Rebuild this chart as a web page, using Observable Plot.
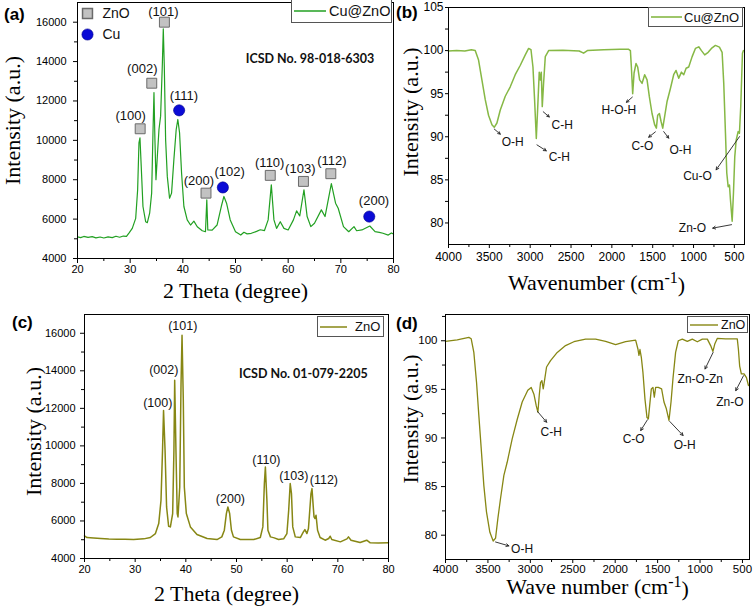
<!DOCTYPE html>
<html><head><meta charset="utf-8">
<script src="https://cdn.jsdelivr.net/npm/d3@7"></script>
<script src="https://cdn.jsdelivr.net/npm/@observablehq/plot@0.6"></script>
<style>
body{margin:0;background:#fff}
#wrap{position:relative;width:756px;height:610px;overflow:hidden;font-family:"Liberation Sans",Arial,sans-serif}
.panel{position:absolute}
.lg{position:absolute;border:1px solid #555;background:#fff;display:flex;align-items:center;box-sizing:border-box;color:#111}
.plab{position:absolute;font-family:"Liberation Sans",Arial,sans-serif;font-weight:bold;font-size:17px;color:#000}
</style></head><body><div id="wrap"></div>
<script>
// ---------- DATA ----------
const colA = "#22a022", colB = "#86b845", colCD = "#878714";
// (a) XRD Cu@ZnO: [2theta, intensity]
const xrdA = [[20,5100],[20.6,5060],[21.2,5120],[22,5070],[22.8,5110],[23.5,5050],[24.3,5090],[25,5040],[25.8,5100],[26.6,5060],[27.3,5130],[28,5080],[28.7,5140],[29.3,5120],[29.8,5300],[30.4,5530],[31.05,6040],[31.42,7490],[31.67,9870],[31.86,10130],[32.1,8680],[32.43,6640],[32.94,5870],[33.26,5820],[33.7,6300],[34.08,7320],[34.33,10380],[34.52,12430],[34.7,10040],[34.9,8000],[35.16,9190],[35.47,10550],[35.78,11230],[36.1,13780],[36.29,15660],[36.48,13780],[36.73,10040],[37.05,8170],[37.48,7060],[37.86,7320],[38.3,9020],[38.74,10550],[39.05,11060],[39.38,10380],[39.76,8340],[40.2,6640],[40.83,5960],[41.46,5700],[42.1,5900],[42.74,5610],[43.69,5410],[44.3,5360],[44.55,6980],[44.74,5450],[45.57,5445],[46.5,5700],[47.3,6640],[47.8,7150],[48.3,6810],[49,5960],[50,5360],[51,5190],[51.6,5330],[52.2,5250],[53,5280],[54,5380],[54.7,5460],[55.5,5420],[56.2,5960],[56.8,7740],[57.3,5960],[57.8,5530],[58.5,5870],[59.2,5530],[60,5450],[61,5960],[61.6,6420],[62.2,6160],[63,7490],[63.6,6130],[64.3,5620],[65,5790],[66.3,6470],[67,6130],[68.2,7800],[69,6810],[69.5,6550],[70.5,5620],[71.5,5360],[72.5,5620],[73,5410],[74,5450],[75.5,5650],[76.5,5360],[77.3,5330],[78,5280],[79,5190],[79.6,5300],[80,5240]];
const znoPeaksA = [[31.9,10587],[34.1,12901],[36.5,16000],[44.4,7319],[56.6,8221],[62.9,7915],[68.1,8306]];
const cuPeaksA = [[39.3,11523],[47.6,7608],[75.4,6128]];
const labelsA = [[30.1,11234,"(100)"],[32.3,13617,"(002)"],[36.3,16510,"(101)"],[40.2,12255,"(111)"],[43.05,7949,"(200)"],[48.9,8425,"(102)"],[56.5,8851,"(110)"],[62.3,8544,"(103)"],[68.3,8936,"(112)"],[76.3,6927,"(200)"]];
const icsdA = [[64.15,14127,"ICSD No. 98-018-6303"]];

// (b) FTIR Cu@ZnO: [wavenumber, transmittance]
const ftirB = [[4000,99.94],[3900,100.0],[3800,99.95],[3720,100.1],[3673,100.0],[3632,98.9],[3591,96.6],[3550,94.3],[3510,92.5],[3468,91.4],[3440,91.1],[3407,91.6],[3366,93.1],[3305,94.7],[3244,95.8],[3183,97.2],[3121,98.3],[3060,99.5],[3019,100.25],[2990,100.1],[2966,98.1],[2946,94.3],[2925,89.8],[2909,93.1],[2889,97.5],[2876,96.6],[2864,97.5],[2852,93.5],[2836,96.2],[2815,99.3],[2774,100],[2600,100.05],[2400,99.95],[2346,99.7],[2300,100.0],[2100,100.1],[1900,100.15],[1794,100.15],[1773,100],[1761,98.1],[1745,95.0],[1728,97.4],[1704,98.5],[1684,98.1],[1660,96.6],[1630,96.2],[1598,97.2],[1569,96.6],[1541,94.65],[1508,92.7],[1476,91.4],[1455,91.0],[1439,92.5],[1418,92.7],[1398,91.8],[1377,91.0],[1357,92.15],[1324,94.1],[1283,95.6],[1243,97.2],[1214,97.7],[1181,96.8],[1148,97.5],[1120,97.2],[1091,97.95],[1059,98.1],[1017,99.3],[977,100.25],[936,100.44],[903,100],[863,99.5],[821,99.8],[781,100.25],[732,100.6],[683,100.4],[650,99.8],[630,96.2],[609,90.4],[593,85.8],[576,84.2],[560,84.4],[548,82.7],[527,80.2],[511,83.5],[495,87.7],[478,89.6],[454,90.6],[438,90.4],[422,93.5],[401,99.7],[389,100]];
const annB = [
 {x1:3440,y1:90.9,x2:3366,y2:90.3,tx:3213,ty:89.4,t:"O-H"},
 {x1:2917,y1:89.06,x2:2803,y2:88.37,tx:2643,ty:87.67,t:"C-H"},
 {x1:2840,y1:92.9,x2:2766,y2:92.3,tx:2607,ty:91.4,t:"C-H"},
 {x1:1749,y1:94.6,x2:1822,y2:94.0,tx:1915,ty:93.1,t:"H-O-H"},
 {x1:1467,y1:90.57,x2:1549,y2:89.95,tx:1626,ty:88.87,t:"C-O"},
 {x1:1365,y1:90.6,x2:1304,y2:89.84,tx:1160,ty:88.4,t:"O-H"},
 {x1:437,y1:90.02,x2:723,y2:86.17,tx:952,ty:85.47,t:"Cu-O"},
 {x1:535,y1:79.8,x2:765,y2:79.4,tx:1013,ty:79.45,t:"Zn-O"}];

// (c) XRD ZnO
const xrdC = [[20,5206],[20.5,5117],[21.8,5090],[23.2,5064],[24.8,5040],[26.4,5028],[28,5020],[29.7,5010],[31.7,5046],[33,5117],[34,5330],[34.65,5862],[35.1,7102],[35.4,9760],[35.6,11890],[35.9,9760],[36.2,6748],[36.6,5720],[36.95,5684],[37.4,6394],[37.65,9760],[37.8,13500],[38.05,9760],[38.3,6394],[38.45,6216],[38.8,7812],[39.05,13300],[39.25,15900],[39.5,12420],[39.7,7812],[40.1,6394],[40.9,5684],[42.2,5277],[44.2,5064],[46.15,5010],[47.1,5152],[47.6,5507],[48,6394],[48.3,6748],[48.65,6394],[49,5507],[49.4,5152],[50.75,5010],[53.4,5010],[54.7,5117],[55.2,5684],[55.5,7990],[55.7,8876],[56,7102],[56.2,5507],[56.7,5152],[57.45,5100],[58.3,5010],[59.3,5046],[59.95,5330],[60.3,6571],[60.6,7990],[60.85,7457],[61.1,5684],[61.6,5152],[62.6,5117],[63.2,5418],[63.5,5543],[63.9,5330],[64.2,5596],[64.7,7457],[64.9,7723],[65.15,6748],[65.3,6216],[65.5,6128],[65.7,6305],[66,5507],[66.5,5117],[67.5,4975],[68.2,5064],[68.5,5188],[68.8,5010],[70.5,4887],[71.8,5046],[72.1,5152],[72.6,4975],[74.4,4851],[75.7,4975],[76.4,4833],[78,4830],[80,4833]];
const labelsC = [[34.46,12298,"(100)"],[35.65,14020,"(002)"],[39.4,16410,"(101)"],[48.8,7190,"(200)"],[55.9,9266,"(110)"],[61.3,8397,"(103)"],[67.25,8166,"(112)"]];
const icsdC = [[63.2,13805,"ICSD No. 01-079-2205"]];

// (d) FTIR ZnO
const ftirD = [[4000,99.93],[3862,100.1],[3725,100.35],[3697,100.2],[3666,98.8],[3634,95.7],[3607,92.3],[3579,88.9],[3548,85.1],[3517,82.4],[3477,80.3],[3438,79.4],[3410,79.7],[3383,81.7],[3351,83.8],[3312,86.15],[3273,87.5],[3214,89.9],[3155,91.9],[3096,93.7],[3030,94.9],[2990,95.2],[2958,94.5],[2930,93.3],[2911,92.65],[2895,94.4],[2880,95.7],[2864,95.9],[2848,95.05],[2833,95.9],[2809,97.3],[2762,97.95],[2683,98.8],[2585,99.5],[2487,99.9],[2349,100.17],[2231,100.17],[2113,99.93],[1995,99.6],[1877,99.9],[1759,100.07],[1732,99.15],[1720,98.5],[1708,99.1],[1692,98.3],[1673,96.75],[1649,94.0],[1625,92.1],[1609,91.97],[1594,93.3],[1574,95.05],[1555,95.2],[1539,94.2],[1523,95.2],[1492,95.2],[1453,95.05],[1425,93.7],[1397,93.0],[1366,91.8],[1342,93.7],[1319,96.1],[1288,98.8],[1256,100],[1209,100.17],[1150,99.93],[1091,100.17],[1032,99.9],[973,100.17],[914,100.17],[875,99.5],[848,98.9],[825,99.7],[797,100.24],[699,100.2],[620,100.2],[561,100.2],[548,99.15],[533,97.4],[513,96.6],[481,96.6],[453,96.2],[429,95.4]];
const annD = [
 {x1:2915,y1:92.72,x2:2808,y2:91.62,tx:2755,ty:90.6,t:"C-H"},
 {x1:3410,y1:79.3,x2:3253,y2:78.9,tx:3097,ty:78.56,t:"O-H"},
 {x1:1620,y1:91.87,x2:1699,y2:90.77,tx:1782,ty:89.85,t:"C-O"},
 {x1:1357,y1:91.7,x2:1200,y2:90.26,tx:1180,ty:89.3,t:"O-H"},
 {x1:846,y1:98.8,x2:941,y2:97.1,tx:997,ty:96.0,t:"Zn-O-Zn"},
 {x1:488,y1:96.4,x2:579,y2:94.87,tx:649,ty:93.64,t:"Zn-O"}];

const xrdTicks = [20,30,40,50,60,70,80], xrdMinor = [25,35,45,55,65,75];
const intTicks = [4000,6000,8000,10000,12000,14000,16000], intMinor = [5000,7000,9000,11000,13000,15000];
const wnTicks = [4000,3500,3000,2500,2000,1500,1000,500], wnMinor = [3750,3250,2750,2250,1750,1250,750];
const trTicksB = [80,85,90,95,100,105], trTicksD = [80,85,90,95,100], trMinor = [82.5,87.5,92.5,97.5,102.5];

// ---------- LAYOUT ----------
const wrap = document.getElementById("wrap");
function place(el, left, top){const d=document.createElement("div");d.className="panel";d.style.left=left+"px";d.style.top=top+"px";d.appendChild(el);wrap.appendChild(d);}
const baseStyle = fs => ({fontFamily:'"Liberation Sans", Arial, sans-serif',fontSize:fs,color:"#000",background:"transparent",overflow:"visible",maxWidth:"none"});
const serif = '"Liberation Serif", "Times New Roman", serif';
const blank = () => "";

function axisLabels(xl, yl, o){
  return [
    Plot.text([xl],{frameAnchor:"bottom",textAnchor:"middle",lineAnchor:"middle",dy:o.xdy,dx:o.xdx||0,text:d=>d,fontFamily:serif,fontSize:22,fill:"#000"}),
    Plot.text([yl],{frameAnchor:"left",textAnchor:"middle",lineAnchor:"middle",rotate:-90,dx:o.ydx,dy:o.ydy,text:d=>d,fontFamily:serif,fontSize:22,fill:"#000"})
  ];
}
function supLabel(svg, full, base, sup){
  d3.select(svg).selectAll("text").filter(function(){return this.textContent===full;}).each(function(){
    const t=d3.select(this); t.text(null);
    t.append("tspan").text(base);
    t.append("tspan").attr("dy","-0.42em").attr("font-size","16px").text(sup);
    t.append("tspan").attr("dy","0.42em").text(")");
  });
}

// (a)
const plotA = Plot.plot({
  width:400,height:300,marginLeft:77,marginRight:7,marginTop:2,marginBottom:42,
  style:baseStyle("11px"),
  x:{domain:[20,80]}, y:{domain:[4000,17000]},
  marks:[
    Plot.axisX({ticks:xrdTicks,tickSize:5,tickPadding:2,label:null}),
    Plot.axisX({ticks:xrdMinor,tickSize:3,tickFormat:blank,label:null}),
    Plot.axisY({ticks:intTicks,tickSize:4,tickPadding:7,tickFormat:"d",label:null}),
    Plot.axisY({ticks:intMinor,tickSize:3,tickFormat:blank,label:null}),
    Plot.line(xrdA,{x:d=>d[0],y:d=>d[1],stroke:colA,strokeWidth:1.2,strokeLinejoin:"round"}),
    Plot.dot(znoPeaksA,{x:d=>d[0],y:d=>d[1],symbol:"square",r:5.6,fill:"#c2c2c2",stroke:"#6a6a6a",strokeWidth:1}),
    Plot.dot(cuPeaksA,{x:d=>d[0],y:d=>d[1],r:5.6,fill:"#0b0bd6",stroke:"#00008a",strokeWidth:0.6}),
    Plot.text(labelsA,{x:d=>d[0],y:d=>d[1],text:d=>d[2],fontSize:13,fill:"#111"}),
    Plot.text(icsdA,{x:d=>d[0],y:d=>d[1],text:d=>d[2],fontSize:12.5,fontWeight:"bold",fontFamily:"Lato, 'Open Sans', sans-serif",fill:"#111"}),
    Plot.dot([0],{frameAnchor:"top-left",dx:10,dy:11,symbol:"square",r:5.6,fill:"#c2c2c2",stroke:"#6a6a6a"}),
    Plot.dot([0],{frameAnchor:"top-left",dx:10,dy:32,r:5.6,fill:"#0b0bd6",stroke:"#00008a",strokeWidth:0.6}),
    Plot.text(["ZnO"],{frameAnchor:"top-left",dx:25,dy:11,text:d=>d,textAnchor:"start",lineAnchor:"middle",fontSize:14,fill:"#111"}),
    Plot.text(["Cu"],{frameAnchor:"top-left",dx:25,dy:32,text:d=>d,textAnchor:"start",lineAnchor:"middle",fontSize:14,fill:"#111"}),
    Plot.frame({stroke:"#000"}),
    ...axisLabels("2 Theta (degree)","Intensity (a.u.)",{xdy:32,ydx:-65,ydy:-10})
  ]
});
place(plotA,0,0);

// (b)
const plotB = Plot.plot({
  width:376,height:300,marginLeft:68,marginRight:12,marginTop:7,marginBottom:56,
  style:baseStyle("12px"),
  x:{domain:[4000,376]}, y:{domain:[77.5,105]},
  marks:[
    Plot.axisX({ticks:wnTicks,tickSize:4,tickPadding:4,tickFormat:"d",label:null}),
    Plot.axisX({ticks:wnMinor,tickSize:3,tickFormat:blank,label:null}),
    Plot.axisY({ticks:trTicksB,tickSize:3,tickPadding:2,label:null}),
    Plot.axisY({ticks:trMinor,tickSize:3,tickFormat:blank,label:null}),
    Plot.line(ftirB,{x:d=>d[0],y:d=>d[1],stroke:colB,strokeWidth:1.5,strokeLinejoin:"round"}),
    Plot.arrow(annB,{x1:"x1",y1:"y1",x2:"x2",y2:"y2",stroke:"#222",strokeWidth:0.9,headLength:5,headAngle:55}),
    Plot.text(annB,{x:"tx",y:"ty",text:"t",fontSize:12,fill:"#111"}),
    Plot.frame({stroke:"#000"}),
    ...axisLabels("Wavenumber (cm-1)","Intensity (a.u.)",{xdy:38,ydx:-38,ydy:-14})
  ]
});
supLabel(plotB,"Wavenumber (cm-1)","Wavenumber (cm","-1");
place(plotB,380,0);

// (c)
const plotC = Plot.plot({
  width:400,height:310,marginLeft:84,marginRight:12,marginTop:14,marginBottom:52,
  style:baseStyle("11px"),
  x:{domain:[20,80]}, y:{domain:[4000,17000]},
  marks:[
    Plot.axisX({ticks:xrdTicks,tickSize:4,tickPadding:3,label:null}),
    Plot.axisX({ticks:xrdMinor,tickSize:3,tickFormat:blank,label:null}),
    Plot.axisY({ticks:intTicks,tickSize:4,tickPadding:5,tickFormat:"d",label:null}),
    Plot.axisY({ticks:intMinor,tickSize:3,tickFormat:blank,label:null}),
    Plot.line(xrdC,{x:d=>d[0],y:d=>d[1],stroke:colCD,strokeWidth:1.5,strokeLinejoin:"round"}),
    Plot.text(labelsC,{x:d=>d[0],y:d=>d[1],text:d=>d[2],fontSize:12.5,fill:"#111"}),
    Plot.text(icsdC,{x:d=>d[0],y:d=>d[1],text:d=>d[2],fontSize:12.5,fontWeight:"bold",fontFamily:"Lato, 'Open Sans', sans-serif",fill:"#111"}),
    Plot.frame({stroke:"#000"}),
    ...axisLabels("2 Theta (degree)","Intensity (a.u.)",{xdy:35,xdx:-10,ydx:-51,ydy:-5})
  ]
});
place(plotC,0,300);

// (d)
const plotD = Plot.plot({
  width:376,height:310,marginLeft:65,marginRight:7,marginTop:14,marginBottom:51,
  style:baseStyle("11.5px"),
  x:{domain:[4000,417]}, y:{domain:[77.5,102.7]},
  marks:[
    Plot.axisX({ticks:wnTicks,tickSize:4,tickPadding:1,tickFormat:"d",label:null}),
    Plot.axisX({ticks:wnMinor,tickSize:3,tickFormat:blank,label:null}),
    Plot.axisY({ticks:trTicksD,tickSize:4,tickPadding:4,label:null}),
    Plot.axisY({ticks:trMinor,tickSize:3,tickFormat:blank,label:null}),
    Plot.line(ftirD,{x:d=>d[0],y:d=>d[1],stroke:colCD,strokeWidth:1.3,strokeLinejoin:"round"}),
    Plot.arrow(annD,{x1:"x1",y1:"y1",x2:"x2",y2:"y2",stroke:"#222",strokeWidth:0.9,headLength:5,headAngle:55}),
    Plot.text(annD,{x:"tx",y:"ty",text:"t",fontSize:12,fill:"#111"}),
    Plot.frame({stroke:"#000"}),
    ...axisLabels("Wave number (cm-1)","Intensity (a.u.)",{xdy:27,ydx:-35,ydy:-18})
  ]
});
supLabel(plotD,"Wave number (cm-1)","Wave number (cm","-1");
place(plotD,380,300);

// legends (boxes) and panel letters
function legend(left,top,w,h,color,label,fs,lineW,gap,sw){
  const d=document.createElement("div");d.className="lg";
  Object.assign(d.style,{left:left+"px",top:top+"px",width:w+"px",height:h+"px",fontSize:fs+"px",paddingLeft:"2px"});
  d.innerHTML=`<svg width="${lineW}" height="4" style="flex:none"><line x1="0" x2="${lineW}" y1="2" y2="2" stroke="${color}" stroke-width="${sw}"/></svg><span style="margin-left:${gap}px;white-space:nowrap">${label}</span>`;
  wrap.appendChild(d);
}
legend(291,-1,101,24,colA,"Cu@ZnO",14.5,32,3,1.5);
legend(648,7,95,20,colB,"Cu@ZnO",13,31,2,1.6);
legend(317,316,67,21,colCD,"ZnO",13,27,8,1.5);
legend(687,316,61,17,colCD,"ZnO",12.5,28,3,1.4);
[["(a)",4,5],["(b)",396,3],["(c)",12,313],["(d)",396,314]].forEach(([t,l,tp])=>{
  const s=document.createElement("div");s.className="plab";s.style.left=l+"px";s.style.top=tp+"px";s.textContent=t;wrap.appendChild(s);
});
</script></body></html>
